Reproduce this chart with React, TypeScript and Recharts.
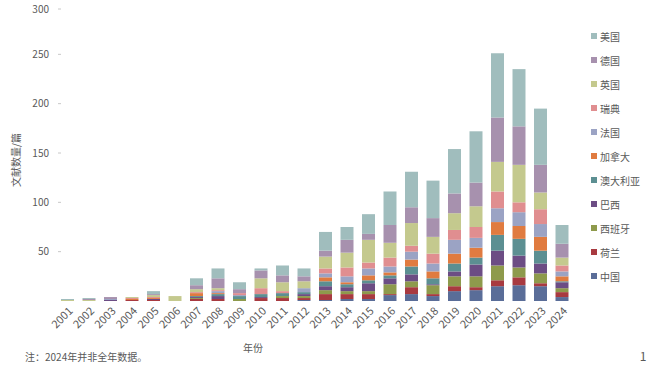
import React from 'react';
import { BarChart, Bar, XAxis, YAxis } from 'recharts';

const years = ['2001','2002','2003','2004','2005','2006','2007','2008','2009','2010','2011','2012','2013','2014','2015','2016','2017','2018','2019','2020','2021','2022','2023','2024'];

const china     = [0,0,0,0,0,0,0,0,0,0,0,1,1,2,2,6,7,5,10,11,15,16,15,4];
const netherlands = [0,0,0,1,1,0,2,2,0,3,3,2,6,5,5,1,7,2,5,3,6,8,3,5];
const spain     = [0,0,0,0,0,0,1,0,2,0,2,2,4,3,3,10,6,9,10,11,15,10,10,4];
const brazil    = [0,0,1,0,1,0,1,3,0,1,0,2,4,4,8,6,7,1,5,12,15,12,10,6];
const australia = [0,0,0,0,0,0,1,2,3,3,3,2,5,3,3,3,8,6,8,7,16,17,13,1];
const canada    = [0,0,0,1,1,0,3,1,0,0,0,0,4,2,5,3,7,7,10,10,13,13,14,5];
const france    = [0,0,1,0,0,0,0,2,1,0,0,4,4,6,7,6,8,8,14,10,14,14,13,5];
const sweden    = [0,0,0,1,1,0,1,1,2,6,2,0,5,9,6,9,6,10,10,11,17,10,15,6];
const uk        = [1,1,0,1,2,5,3,2,0,10,9,7,12,15,23,15,23,17,17,21,30,38,17,8];
const germany   = [0,1,2,0,1,0,4,10,4,8,7,5,6,13,6,18,16,19,20,24,45,39,28,14];
const usa       = [1,1,0,0,3,0,7,10,7,2,10,8,19,13,20,34,36,38,45,52,65,58,57,19];

const seriesNames = ['中国','荷兰','西班牙','巴西','澳大利亚','加拿大','法国','瑞典','英国','德国','美国'];
const seriesValues = [china, netherlands, spain, brazil, australia, canada, france, sweden, uk, germany, usa];
const seriesColors = ['#5a6d98','#a83a40','#8e9a4c','#6c4d84','#5c8f92','#e07b40','#9ba3c4','#e08e90','#c4c98e','#a791ae','#a0bdbd'];
const yTicks = [50, 100, 150, 200, 250, 300];

const data = years.map((y, i) => {
  const row: Record<string, string | number> = { year: y };
  seriesNames.forEach((n, k) => { row[n] = seriesValues[k][i]; });
  return row;
});

const FONT = "'Noto Sans CJK SC', 'Noto Sans', sans-serif";
const TXT = '#595959';

const YTick = (props: any) => {
  const { x, y, payload } = props;
  return (
    <g>
      <text x={x} y={y} dy="0.35em" textAnchor="end" fontSize={10} fill={TXT} fontFamily={FONT}>{payload.value}</text>
      <line x1={x + 9} x2={x + 12} y1={y} y2={y} stroke="#c8c8c8" strokeWidth={1} />
    </g>
  );
};

const XTick = (props: any) => {
  const { x, y, payload } = props;
  return (
    <text x={x + 3} y={y} dy="0.35em" textAnchor="end" fontSize={11} fill={TXT} fontFamily={FONT}
      transform={`rotate(-45, ${x + 3}, ${y})`}>{payload.value}</text>
  );
};

export default function App() {
  const legendItems = seriesNames.map((n, k) => ({ n, c: seriesColors[k] })).reverse();
  return (
    <div style={{ position: 'absolute', left: 0, top: 0, width: 650, height: 365, background: '#fff', fontFamily: FONT }}>
      <BarChart width={650} height={365} data={data} margin={{ top: 5, right: 77, bottom: 0, left: 0 }}>
        <XAxis dataKey="year" height={64} axisLine={false} tickLine={false} tick={<XTick />} interval={0} />
        <YAxis domain={[0, 300]} ticks={yTicks} width={57} axisLine={false} tickLine={false} tick={<YTick />} />
        {seriesNames.map((n, k) => (
          <Bar key={n} dataKey={n} stackId="a" fill={seriesColors[k]} barSize={13} isAnimationActive={false} />
        ))}
      </BarChart>
      <svg width={650} height={365} style={{ position: 'absolute', left: 0, top: 0, pointerEvents: 'none' }}>
        <text x={15} y={160} textAnchor="middle" dominantBaseline="central" fontSize={10} fill={TXT} fontFamily={FONT}
          transform="rotate(-90, 15, 160)">文献数量/篇</text>
        <text x={253} y={347} textAnchor="middle" dominantBaseline="central" fontSize={10} fill={TXT} fontFamily={FONT}>年份</text>
        <text x={25} y={356} dominantBaseline="central" fontSize={10} fill={TXT} fontFamily={FONT}>注：2024年并非全年数据。</text>
        <text x={643} y={355} textAnchor="middle" dominantBaseline="central" fontSize={12} fill={TXT} fontFamily={FONT}>1</text>
        {legendItems.map((it, i) => (
          <g key={it.n}>
            <rect x={591} y={33 + i * 24} width={6} height={6} fill={it.c} />
            <text x={600} y={36 + i * 24} dominantBaseline="central" fontSize={10} fill={TXT} fontFamily={FONT}>{it.n}</text>
          </g>
        ))}
      </svg>
    </div>
  );
}
